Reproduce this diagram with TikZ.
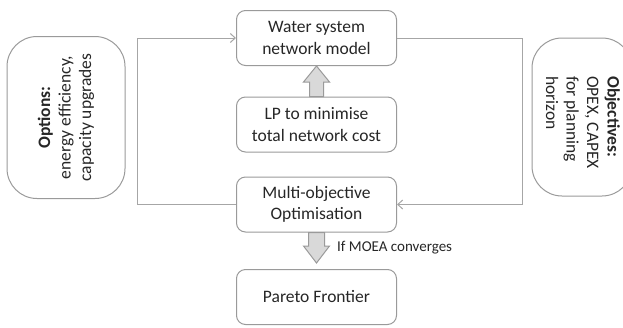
\documentclass[tikz,border=0pt]{standalone}
\usepackage{fontspec}
\setmainfont{Carlito}
\usetikzlibrary{arrows.meta,calc}
\definecolor{boxline}{HTML}{9A9A9A}
\definecolor{txt}{HTML}{262626}
\definecolor{arrfill}{HTML}{D9D9D9}
\definecolor{conncol}{HTML}{A6A6A6}
\tikzset{
  mainbox/.style={draw=boxline, line width=1pt, rounded corners=9pt, minimum width=160pt, minimum height=55pt, align=center, text=txt, font=\fontsize{17.5}{21.5}\selectfont, inner sep=0pt},
  sidebox/.style={draw=boxline, line width=1pt, rounded corners=30pt},
  sidetext/.style={text=txt, font=\fontsize{17.5}{20.5}\selectfont, inner sep=0pt},
  conn/.style={draw=conncol, line width=1pt, -{Straight Barb[length=5pt,width=9pt]}},
  barrow/.style={draw=boxline, fill=arrfill, line width=1pt, line join=miter},
  lbl/.style={text=txt, font=\fontsize{15}{17}\selectfont, inner sep=0pt, anchor=west}
}
\begin{document}
\begin{tikzpicture}[x=1pt,y=-1pt]
\useasboundingbox (0,0) rectangle (623,327);
\node[mainbox] (water) at (316.5,38) {Water system\\network model};
\node[mainbox] (lp) at (316.5,124.5) {LP to minimise\\total network cost};
\node[mainbox] (moo) at (316.5,204.5) {Multi-objective\\Optimisation};
\node[mainbox] (pareto) at (316.5,297) {Pareto Frontier};
\node[sidebox, minimum width=118pt, minimum height=162pt] (opt) at (66,117.5) {};
\node[sidetext, rotate=90, align=center] (opttxt) at (opt.center) {\textbf{Options:}\\energy efficiency,\\capacity upgrades};
\node[sidebox, minimum width=100pt, minimum height=158pt] (obj) at (582,117) {};
\node[sidetext, rotate=-90, align=left, anchor=north west] (objtxt) at (620,76) {\textbf{Objectives:}\\OPEX, CAPEX\\for planning\\horizon};
\coordinate (lc) at (137,0);
\coordinate (rc) at (522,0);
\draw[conn] (moo.west) -- (moo.west -| lc) -- (water.west -| lc) -- (water.west);
\draw[conn] (water.east) -- (water.east -| rc) -- (moo.east -| rc) -- (moo.east);
\coordinate (ut) at (water.south);
\coordinate (ub) at (lp.north);
\draw[barrow] ($(ub)+(-7,0)$) -- ($(ut)+(-7,16)$) -- ($(ut)+(-13,16)$) -- (ut) -- ($(ut)+(13,16)$) -- ($(ut)+(7,16)$) -- ($(ub)+(7,0)$) -- cycle;
\coordinate (dt) at ($(pareto.north)+(0,-6)$);
\coordinate (db) at (moo.south);
\draw[barrow] ($(db)+(-8,0)$) -- ($(dt)+(-8,-17)$) -- ($(dt)+(-13,-17)$) -- (dt) -- ($(dt)+(13,-17)$) -- ($(dt)+(8,-17)$) -- ($(db)+(8,0)$) -- cycle;
\node[lbl] (conv) at (337,248) {If MOEA converges};
\end{tikzpicture}
\end{document}
